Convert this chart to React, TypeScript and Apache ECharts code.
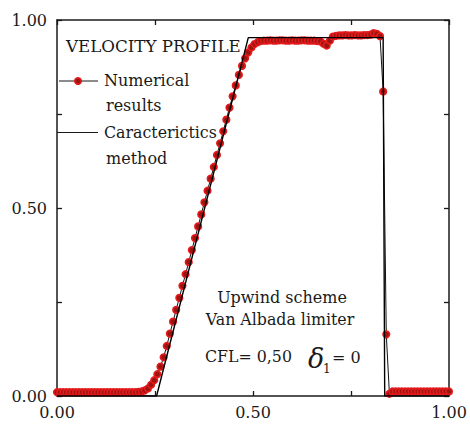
import React, { useEffect, useRef } from "react";
import * as echarts from "echarts";

// Mesh spacing of the numerical solution (cells across 0..1)
const MESH_STEP = 0.008;

// Numerical velocity profile, one value per mesh node
const numericalValues = [
  0.01, 0.01, 0.01, 0.01, 0.01, 0.01, 0.01, 0.01, 0.01, 0.01,
  0.01, 0.01, 0.01, 0.01, 0.01, 0.01, 0.01, 0.01, 0.01, 0.01,
  0.01, 0.01, 0.01, 0.01, 0.01, 0.01,
  0.011, 0.012, 0.015, 0.02, 0.03, 0.042, 0.058, 0.078, 0.103, 0.133, 0.166,
  0.198, 0.229, 0.261, 0.293, 0.324, 0.356, 0.388, 0.42, 0.451, 0.483,
  0.515, 0.546, 0.578, 0.609, 0.641, 0.672, 0.704, 0.735, 0.767, 0.797,
  0.826, 0.854, 0.878, 0.898, 0.914, 0.927, 0.936, 0.941,
  0.944, 0.945, 0.945, 0.946, 0.945, 0.945, 0.946, 0.946, 0.945, 0.945,
  0.946, 0.945, 0.945, 0.946, 0.946, 0.945, 0.945, 0.945, 0.944,
  0.943, 0.937, 0.932, 0.945, 0.956,
  0.958, 0.959, 0.959, 0.96, 0.959, 0.959, 0.96, 0.959, 0.959, 0.96, 0.96,
  0.961, 0.965, 0.963, 0.957, 0.81, 0.164, 0.006,
  0.012, 0.012, 0.012, 0.012, 0.012, 0.012, 0.012, 0.012, 0.012, 0.012,
  0.012, 0.012, 0.012, 0.012, 0.012, 0.012, 0.012, 0.012, 0.012,
];

// Exact solution by the method of characteristics
const characteristicsX = [0, 0.254, 0.488, 0.832, 0.836, 1];
const characteristicsY = [0, 0, 0.953, 0.953, 0, 0];

// Labelled ticks (every 0.5), unlabelled ticks every 0.25
const tickLabels = ["0.00", "0.50", "1.00"];

const SERIF = "DejaVu Serif";
const INK = "#1a1a1a";

function labelFor(v: number): string {
  const k = Math.round(v * 2);
  return Math.abs(v * 2 - k) < 1e-6 ? tickLabels[k] ?? "" : "";
}

function makeAxis(position: string, showLabel: boolean, margin: number) {
  return {
    type: "value",
    min: 0,
    max: 1,
    interval: 0.25,
    position,
    axisLine: { show: true, onZero: false, lineStyle: { color: INK, width: 1.5 } },
    axisTick: { show: true, inside: true, length: 5, lineStyle: { color: INK, width: 1.3 } },
    axisLabel: {
      show: showLabel,
      formatter: labelFor,
      margin,
      fontFamily: SERIF,
      fontSize: 16,
      color: INK,
    },
    splitLine: { show: false },
  };
}

export default function App() {
  const ref = useRef<HTMLDivElement>(null);

  useEffect(() => {
    if (!ref.current) return;
    const chart = echarts.init(ref.current, undefined, { renderer: "svg" });

    const numericalData = numericalValues.map((v, i) => [i * MESH_STEP, v]);
    const characteristicsData = characteristicsX.map((x, i) => [x, characteristicsY[i]]);

    const textStyle = (text: string, size: number, extra: any = {}) => ({
      text,
      fontFamily: SERIF,
      fontSize: size,
      fill: INK,
      verticalAlign: "middle",
      ...extra,
    });

    chart.setOption({
      animation: false,
      backgroundColor: "#ffffff",
      textStyle: { fontFamily: SERIF },
      grid: { left: 57, top: 20, width: 392, height: 376 },
      xAxis: [makeAxis("bottom", true, 8), makeAxis("top", false, 6)],
      yAxis: [makeAxis("left", true, 10), makeAxis("right", false, 6)],
      series: [
        {
          name: "Numerical results",
          type: "line",
          xAxisIndex: 0,
          yAxisIndex: 0,
          data: numericalData,
          symbol: "circle",
          symbolSize: 6.5,
          showAllSymbol: true,
          lineStyle: { color: "#111", width: 1 },
          itemStyle: { color: "#9a1510", borderColor: "#e3191c", borderWidth: 1.7 },
          z: 2,
        },
        {
          name: "Caracterictics method",
          type: "line",
          xAxisIndex: 0,
          yAxisIndex: 0,
          data: characteristicsData,
          symbol: "none",
          lineStyle: { color: "#000", width: 1.4 },
          z: 3,
        },
      ],
      graphic: [
        { type: "text", x: 66, y: 45.5, style: textStyle("VELOCITY PROFILE", 16.7) },
        // legend: numerical results
        { type: "line", shape: { x1: 59, y1: 81, x2: 98, y2: 81 }, style: { stroke: INK, lineWidth: 1.2 } },
        { type: "circle", shape: { cx: 78, cy: 81, r: 3.2 }, style: { fill: "#9a1510", stroke: "#e3191c", lineWidth: 1.7 } },
        { type: "text", x: 104, y: 80.5, style: textStyle("Numerical", 16) },
        { type: "text", x: 106, y: 105.5, style: textStyle("results", 16) },
        // legend: characteristics
        { type: "line", shape: { x1: 57, y1: 132.5, x2: 98, y2: 132.5 }, style: { stroke: INK, lineWidth: 1.2 } },
        { type: "text", x: 104, y: 132, style: textStyle("Caracterictics", 15.8) },
        { type: "text", x: 106, y: 158.5, style: textStyle("method", 16) },
        // annotation
        { type: "text", x: 282, y: 297.5, style: textStyle("Upwind scheme", 16, { align: "center" }) },
        { type: "text", x: 280, y: 319, style: textStyle("Van Albada limiter", 15.8, { align: "center" }) },
        { type: "text", x: 205, y: 356.5, style: textStyle("CFL= 0,50", 15.8) },
        { type: "text", x: 308, y: 358, style: textStyle("δ", 27, { fontStyle: "italic" }) },
        { type: "text", x: 323, y: 369, style: textStyle("1", 12) },
        { type: "text", x: 332, y: 357, style: textStyle("= 0", 16) },
      ],
    });

    return () => chart.dispose();
  }, []);

  return (
    <div
      ref={ref}
      style={{ position: "fixed", left: 0, top: 0, width: 470, height: 424, background: "#fff" }}
    />
  );
}
